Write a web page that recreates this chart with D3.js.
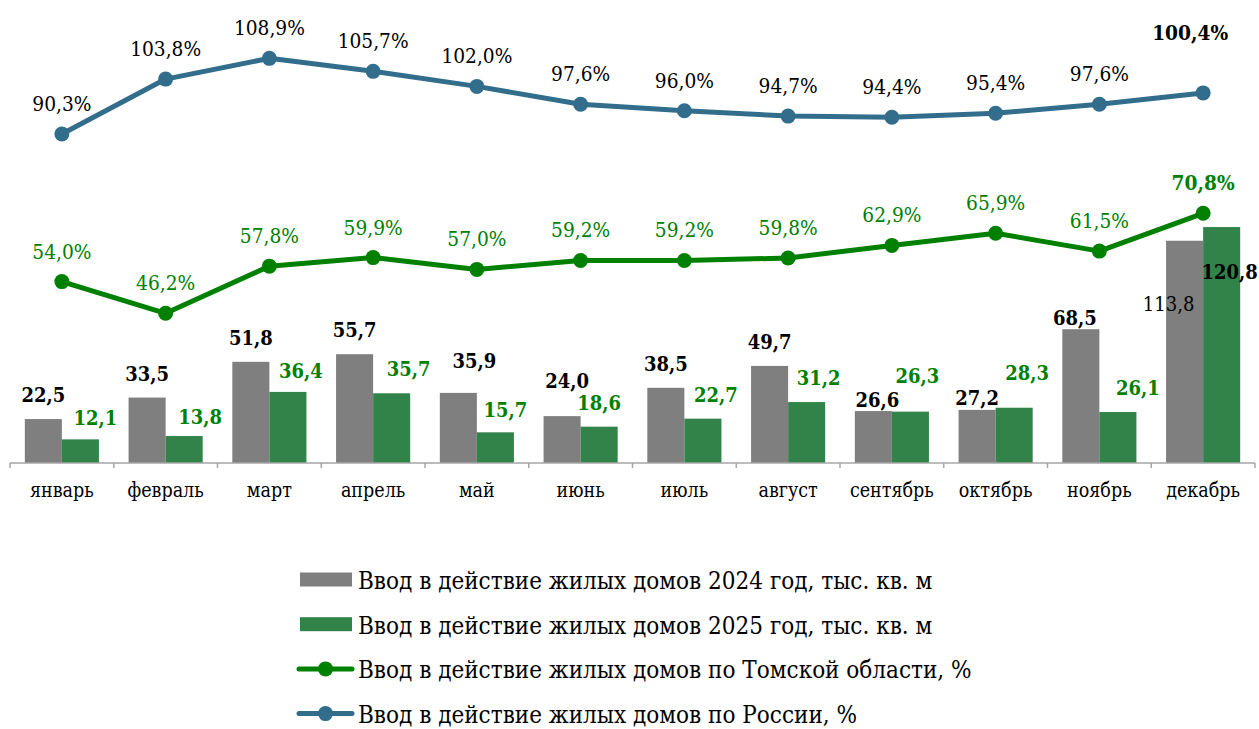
<!DOCTYPE html>
<html>
<head>
<meta charset="utf-8">
<script src="https://cdn.jsdelivr.net/npm/d3@7"></script>
<style>
  body { margin: 0; background: #fff; }
  svg { display: block; font-family: 'DejaVu Serif Condensed', 'DejaVu Serif', serif; }
</style>
</head>
<body>
<svg width="1259" height="729"></svg>
<script>
// data
const months = ['январь', 'февраль', 'март', 'апрель', 'май', 'июнь', 'июль', 'август', 'сентябрь', 'октябрь', 'ноябрь', 'декабрь'];
const homes2024 = [22.5, 33.5, 51.8, 55.7, 35.9, 24.0, 38.5, 49.7, 26.6, 27.2, 68.5, 113.8];
const homes2025 = [12.1, 13.8, 36.4, 35.7, 15.7, 18.6, 22.7, 31.2, 26.3, 28.3, 26.1, 120.8];
const tomskPct = [54.0, 46.2, 57.8, 59.9, 57.0, 59.2, 59.2, 59.8, 62.9, 65.9, 61.5, 70.8];
const russiaPct = [90.3, 103.8, 108.9, 105.7, 102.0, 97.6, 96.0, 94.7, 94.4, 95.4, 97.6, 100.4];
const legendLabels = [
    'Ввод в действие жилых домов 2024 год, тыс. кв. м',
    'Ввод в действие жилых домов 2025 год, тыс. кв. м',
    'Ввод в действие жилых домов по Томской области, %',
    'Ввод в действие жилых домов по России, %'
];

// hand placed data labels (dx, dy from default spot), like in the original
const off2024 = [[0,0],[0,0],[0,0],[0,0],[16,-8],[5,-11],[0,0],[0,0],[4,13],[0,12],[-6,13],[-16,87]];
const off2025 = [[15,3],[16,5],[13,3],[17,0],[10,2],[0,0],[13,0],[12,0],[7,-12],[13,-11],[20,0],[8,69]];

const colors = {
    gray: '#7f7f7f',
    green: '#31834a',
    tomsk: '#008000',
    russia: '#326e8c',
    axis: '#a6a6a6'
};

const svg = d3.select('svg');
const g = svg.append('g');

const x = d3.scaleBand().domain(months).range([10, 1255]);
const yBar = d3.scaleLinear().domain([0, 230]).range([463, 13.8]);
const yPct = d3.scaleLinear().domain([0, 120]).range([501.2, 13.2]);

const inner = d3.scaleBand().domain([0, 1]).range([0, x.bandwidth()]).paddingOuter(0.4).paddingInner(0);

// bars
const drawBars = (values, idx, fill) => {
    g.append('g').selectAll('rect')
        .data(values)
        .enter()
        .append('rect')
            .attr('x', (d, i) => x(months[i]) + inner(idx))
            .attr('y', d => yBar(d))
            .attr('width', inner.bandwidth())
            .attr('height', d => yBar(0) - yBar(d))
            .attr('fill', fill);
};
drawBars(homes2024, 0, colors.gray);
drawBars(homes2025, 1, colors.green);

// x axis
const axis = g.append('g').attr('transform', 'translate(0,463)');
axis.append('line')
    .attr('x1', 10).attr('x2', 1255)
    .attr('stroke', colors.axis).attr('stroke-width', 1.5);
axis.selectAll('.tick')
    .data(months.map(m => x(m)).concat([1255]))
    .enter()
    .append('line')
        .attr('x1', d => d).attr('x2', d => d)
        .attr('y1', 0).attr('y2', 5)
        .attr('stroke', colors.axis).attr('stroke-width', 1.5);
axis.selectAll('text')
    .data(months)
    .enter()
    .append('text')
        .attr('x', d => x(d) + x.bandwidth() / 2)
        .attr('y', 34)
        .attr('text-anchor', 'middle')
        .attr('font-size', 19.5)
        .attr('fill', '#000')
        .text(d => d);

// bar labels
const fmt = v => v.toFixed(1).replace('.', ',');
g.append('g').selectAll('text')
    .data(homes2024)
    .enter()
    .append('text')
        .attr('x', (d, i) => x(months[i]) + inner(0) + inner.bandwidth() / 2 + off2024[i][0])
        .attr('y', (d, i) => yBar(d) - 17 + off2024[i][1])
        .attr('text-anchor', 'middle')
        .attr('font-size', 20)
        .attr('font-weight', (d, i) => i === 11 ? 'normal' : 'bold')
        .attr('fill', '#000')
        .text(fmt);
g.append('g').selectAll('text')
    .data(homes2025)
    .enter()
    .append('text')
        .attr('x', (d, i) => x(months[i]) + inner(1) + inner.bandwidth() / 2 + off2025[i][0])
        .attr('y', (d, i) => yBar(d) - 17 + off2025[i][1])
        .attr('text-anchor', 'middle')
        .attr('font-size', 20)
        .attr('font-weight', 'bold')
        .attr('fill', (d, i) => i === 11 ? '#000' : colors.tomsk)
        .text(fmt);

// lines with markers
const drawLine = (values, color) => {
    const line = d3.line()
        .x((d, i) => x(months[i]) + x.bandwidth() / 2)
        .y(d => yPct(d));
    g.append('path')
        .attr('d', line(values))
        .attr('fill', 'none')
        .attr('stroke', color)
        .attr('stroke-width', 5)
        .attr('stroke-linejoin', 'round');
    g.append('g').selectAll('circle')
        .data(values)
        .enter()
        .append('circle')
            .attr('cx', (d, i) => x(months[i]) + x.bandwidth() / 2)
            .attr('cy', d => yPct(d))
            .attr('r', 7.5)
            .attr('fill', color);
    g.append('g').selectAll('text')
        .data(values)
        .enter()
        .append('text')
            .attr('x', (d, i) => x(months[i]) + x.bandwidth() / 2 + (i === 11 && color === colors.russia ? -13 : 0))
            .attr('y', (d, i) => yPct(d) - 23 - (i === 11 && color === colors.russia ? 30 : 0))
            .attr('text-anchor', 'middle')
            .attr('font-size', 20.7)
            .attr('font-weight', (d, i) => i === 11 ? 'bold' : 'normal')
            .attr('fill', color === colors.tomsk ? colors.tomsk : '#000')
            .text(d => fmt(d) + '%');
};
drawLine(tomskPct, colors.tomsk);
drawLine(russiaPct, colors.russia);

// legend
const legend = svg.append('g').attr('class', 'legend');
const rows = legend.selectAll('g')
    .data(legendLabels)
    .enter()
    .append('g')
        .attr('transform', (d, i) => `translate(0,${579.5 + i * 44.7})`);
rows.filter((d, i) => i < 2)
    .append('rect')
        .attr('x', 300).attr('y', -7)
        .attr('width', 52).attr('height', 14)
        .attr('fill', (d, i) => i === 0 ? colors.gray : colors.green);
const lineRows = rows.filter((d, i) => i >= 2);
lineRows.append('line')
    .attr('x1', 299).attr('x2', 352)
    .attr('stroke', (d, i) => i === 0 ? colors.tomsk : colors.russia)
    .attr('stroke-width', 5)
    .attr('stroke-linecap', 'round');
lineRows.append('circle')
    .attr('cx', 325.5).attr('r', 7.5)
    .attr('fill', (d, i) => i === 0 ? colors.tomsk : colors.russia);
rows.append('text')
    .attr('x', 358).attr('y', 9.5)
    .attr('font-size', 24)
    .attr('fill', '#000')
    .text(d => d);
</script>
</body>
</html>
